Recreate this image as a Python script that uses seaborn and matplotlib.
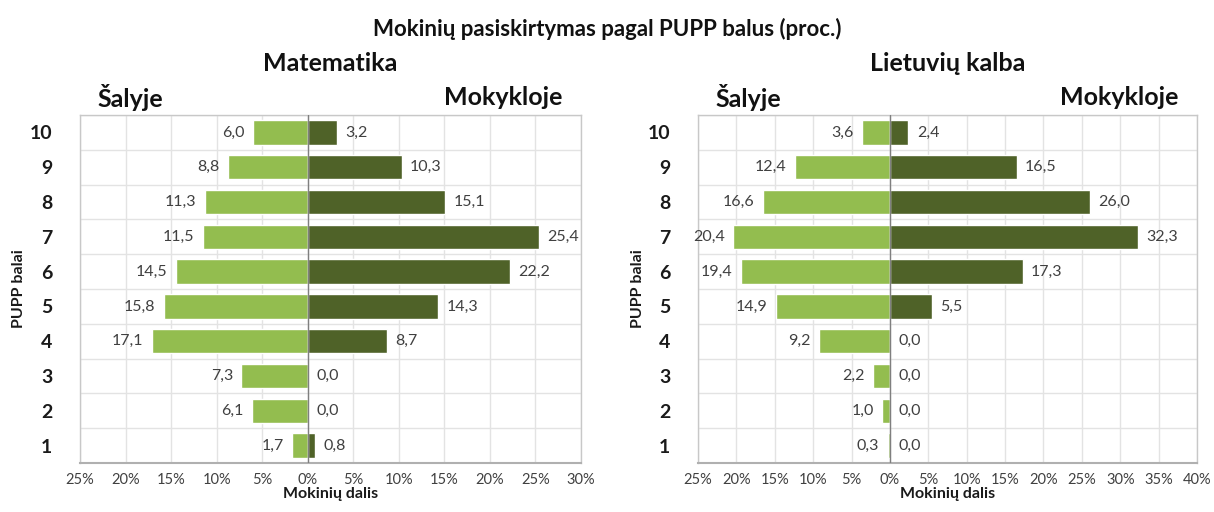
import matplotlib
matplotlib.use("Agg")
import matplotlib.pyplot as plt
import seaborn as sns
import pandas as pd
import numpy as np
from matplotlib.ticker import MultipleLocator, FuncFormatter

# PUPP scores, top to bottom
scores = ["10", "9", "8", "7", "6", "5", "4", "3", "2", "1"]

math_country = [6.0, 8.8, 11.3, 11.5, 14.5, 15.8, 17.1, 7.3, 6.1, 1.7]
math_school = [3.2, 10.3, 15.1, 25.4, 22.2, 14.3, 8.7, 0.0, 0.0, 0.8]

lit_country = [3.6, 12.4, 16.6, 20.4, 19.4, 14.9, 9.2, 2.2, 1.0, 0.3]
lit_school = [2.4, 16.5, 26.0, 32.3, 17.3, 5.5, 0.0, 0.0, 0.0, 0.0]

groups = ["Šalyje", "Mokykloje"]
colors = {"Šalyje": "#93bd4f", "Mokykloje": "#4f6228"}

sns.set_style("white")
plt.rcParams['font.family'] = ['Lato', 'DejaVu Sans']

TXT = "#404040"


def make_df(country, school):
    df_c = pd.DataFrame({"Balas": scores, "Dalis": [-v for v in country], "Grupe": groups[0]})
    df_s = pd.DataFrame({"Balas": scores, "Dalis": school, "Grupe": groups[1]})
    return pd.concat([df_c, df_s], ignore_index=True)


def draw_panel(ax, country, school, subject, xmax):
    df = make_df(country, school)
    sns.barplot(data=df, y="Balas", x="Dalis", hue="Grupe", order=scores,
                hue_order=groups, palette=colors, dodge=False, width=0.7,
                saturation=1, legend=False, orient="h", ax=ax, zorder=3)

    for cont, vals in zip(ax.containers, [country, school]):
        labels = ["{:.1f}".format(v).replace(".", ",") for v in vals]
        ax.bar_label(cont, labels=labels, padding=6, fontsize=11.5, color=TXT)

    ax.set_xlim(-25, xmax)
    ax.set_ylim(9.5, -0.5)
    ax.xaxis.set_major_locator(MultipleLocator(5))
    ax.xaxis.set_major_formatter(FuncFormatter(lambda v, p: "{:d}%".format(int(round(abs(v))))))
    ax.set_yticks(np.arange(-0.5, 10, 1), minor=True)

    ax.grid(axis="x", which="major", color="#e3e3e3", lw=1, zorder=0)
    ax.grid(axis="y", which="minor", color="#e3e3e3", lw=1, zorder=0)
    ax.axvline(0, color="#7f7f7f", lw=1, zorder=4)

    for sp in ax.spines.values():
        sp.set_color("#c8c8c8")
        sp.set_linewidth(1)
    ax.spines["bottom"].set_color("#b0b0b0")
    ax.spines["bottom"].set_linewidth(1.5)

    ax.tick_params(axis="y", which="both", length=0, pad=20)
    ax.tick_params(axis="x", which="major", length=4, color="#b0b0b0",
                   labelsize=10.5, labelcolor=TXT, pad=3)
    for lab in ax.get_yticklabels():
        lab.set_fontweight("bold")
        lab.set_fontsize(14)
        lab.set_color("#1a1a1a")

    ax.set_xlabel("Mokinių dalis", fontsize=11.5, fontweight="bold", color="#1a1a1a", labelpad=0)
    ax.set_ylabel("PUPP balai", fontsize=11.5, fontweight="bold", color="#1a1a1a")
    ax.yaxis.set_label_coords(-0.107, 0.5)

    ax.text(0.5, 1.148, subject, transform=ax.transAxes, ha="center", va="center",
            fontsize=18, fontweight="bold", color="#111111")
    ax.text(0.035, 1.05, "Šalyje", transform=ax.transAxes, ha="left", va="center",
            fontsize=18, fontweight="bold", color="#111111")
    ax.text(0.962, 1.05, "Mokykloje", transform=ax.transAxes, ha="right", va="center",
            fontsize=18, fontweight="bold", color="#111111")


fig = plt.figure(figsize=(12.14, 5.12), dpi=100)
ax1 = fig.add_axes([0.0659, 0.0957, 0.4127, 0.6797])
ax2 = fig.add_axes([0.575, 0.0957, 0.411, 0.6797])

draw_panel(ax1, math_country, math_school, "Matematika", 30)
draw_panel(ax2, lit_country, lit_school, "Lietuvių kalba", 40)

fig.text(0.5, 1 - 29 / 512, "Mokinių pasiskirtymas pagal PUPP balus (proc.)",
         ha="center", va="center", fontsize=16, fontweight="bold", color="#111111")

fig.savefig("out.png", dpi=100)
